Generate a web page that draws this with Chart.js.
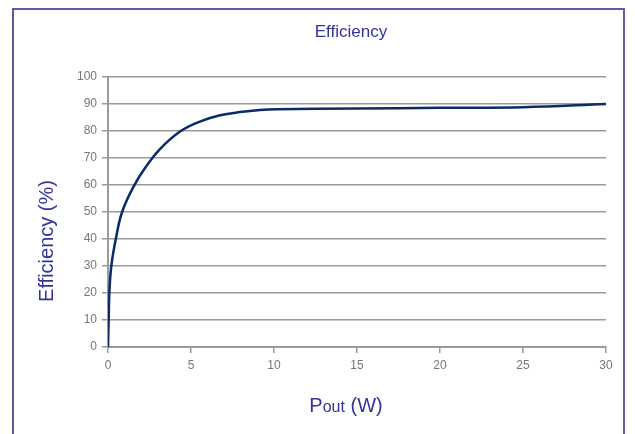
<!DOCTYPE html>
<html>
<head>
<meta charset="utf-8">
<script src="https://cdn.jsdelivr.net/npm/chart.js@4"></script>
<style>
  body { margin: 0; background: #fff; }
  #wrap { position: relative; width: 635px; height: 434px; }
  #frame { position: absolute; left: 12px; top: 8px; width: 613px; height: 440px;
           border: 2px solid #5b5ba8; box-sizing: border-box; pointer-events: none; }
</style>
</head>
<body>
<div id="wrap">
  <canvas id="effChart" width="635" height="434"></canvas>
  <div id="frame"></div>
</div>
<script>
// Efficiency curve data
const pout = [0, 0.04, 0.08, 0.2, 0.47, 0.85, 1.55, 2.23, 3.13, 4.34, 5.54, 6.75, 7.95, 9.16, 10.16, 15, 20, 25, 30];
const efficiency = [0, 10, 20, 30, 40, 50, 59.5, 66.3, 73.3, 79.8, 83.5, 85.8, 87, 87.8, 88.1, 88.3, 88.6, 88.8, 90];
const xTicks = [0, 5, 10, 15, 20, 25, 30];
const yTicks = [0, 10, 20, 30, 40, 50, 60, 70, 80, 90, 100];

const titleColor = '#333399';
const tickColor = '#777777';
const gridColor = '#9a9a9a';
const fontFamily = '"Liberation Sans", Arial, sans-serif';

// titles drawn by hand (Pout has a smaller "out")
const chartTitles = {
    id: 'chartTitles',
    afterDraw(chart) {
        const c = chart.ctx;
        c.save();
        c.fillStyle = titleColor;
        c.textAlign = 'center';
        c.textBaseline = 'middle';
        c.font = '17px ' + fontFamily;
        c.fillText('Efficiency', 351, 32);
        c.restore();

        // y title
        c.save();
        c.fillStyle = titleColor;
        c.textBaseline = 'alphabetic';
        c.translate(53, 241);
        c.rotate(-Math.PI / 2);
        c.font = '20px ' + fontFamily;
        c.textAlign = 'center';
        c.fillText('Efficiency (%)', 0, 0);
        c.restore();

        // x title
        c.save();
        c.fillStyle = titleColor;
        c.textAlign = 'left';
        c.font = '20px ' + fontFamily;
        const wP = c.measureText('P').width;
        const wRest = c.measureText(' (W)').width;
        c.font = '16px ' + fontFamily;
        const wOut = c.measureText('out').width;
        let x = 346 - (wP + wOut + wRest) / 2;
        const base = 412;
        c.font = '20px ' + fontFamily;
        c.fillText('P', x, base);
        x += wP;
        c.font = '16px ' + fontFamily;
        c.fillText('out', x, base);
        x += wOut;
        c.font = '20px ' + fontFamily;
        c.fillText(' (W)', x, base);
        c.restore();
    }
};

function initEffChart() {
    const ctx = document.getElementById('effChart').getContext('2d');

    new Chart(ctx, {
        type: 'line',
        data: {
            datasets: [{
                label: 'Efficiency',
                data: pout.map((p, i) => ({ x: p, y: efficiency[i] })),
                borderColor: '#0b2a6a',
                borderWidth: 2.5,
                pointRadius: 0,
                tension: 0.4,
                fill: false
            }]
        },
        options: {
            responsive: false,
            animation: false,
            layout: { padding: { left: 0, right: 29, top: 77, bottom: 0 } },
            plugins: {
                legend: { display: false },
                tooltip: { enabled: false },
                title: { display: false }
            },
            scales: {
                x: {
                    type: 'linear',
                    min: 0,
                    max: 30,
                    afterBuildTicks: axis => { axis.ticks = xTicks.map(v => ({ value: v })); },
                    afterFit: axis => { axis.height = 87; },
                    grid: { drawOnChartArea: false, drawTicks: true, tickLength: 6, color: gridColor, lineWidth: 1.5 },
                    border: { color: gridColor, width: 2 },
                    ticks: {
                        color: tickColor,
                        padding: 5,
                        maxRotation: 0,
                        font: { family: fontFamily, size: 12 }
                    }
                },
                y: {
                    min: 0,
                    max: 100,
                    afterBuildTicks: axis => { axis.ticks = yTicks.map(v => ({ value: v })); },
                    afterFit: axis => { axis.width = 108; },
                    grid: { drawOnChartArea: true, drawTicks: true, tickLength: 6, color: gridColor, lineWidth: 1.5 },
                    border: { color: gridColor, width: 2 },
                    ticks: {
                        color: tickColor,
                        padding: 5,
                        font: { family: fontFamily, size: 12 }
                    }
                }
            }
        },
        plugins: [chartTitles]
    });
}

document.addEventListener('DOMContentLoaded', function() {
    if (document.getElementById('effChart')) {
        initEffChart();
    }
});
</script>
</body>
</html>
